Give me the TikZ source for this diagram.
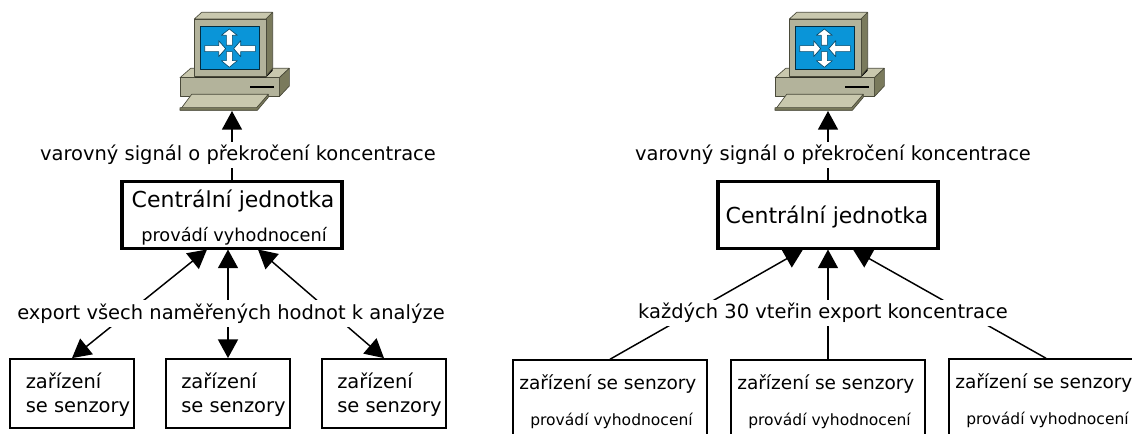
\documentclass[tikz,border=0pt]{standalone}
\usepackage{fontspec}
\setmainfont{DejaVu Sans}
\usetikzlibrary{arrows.meta}
\definecolor{rlight}{HTML}{C9C8AE}
\definecolor{rfront}{HTML}{B3B39B}
\definecolor{rside}{HTML}{7A7A5C}
\definecolor{redge}{HTML}{4A4A3A}
\definecolor{rblue}{HTML}{0A95D8}
\tikzset{
  router/.pic={
    \begin{scope}[draw=redge,line width=.5pt,line join=round]
    \filldraw[fill=rlight] (60,233)--(92,205)--(388,205)--(358,233)--cycle;
    \filldraw[fill=rfront] (60,233) rectangle (358,290);
    \filldraw[fill=rside] (358,233)--(388,205)--(388,258)--(358,290)--cycle;
    \fill[black] (105,228)--(318,228)--(338,205)--(338,212)--(318,232)--(105,232)--cycle;
    \fill[black] (270,257) rectangle (341,263);
    \filldraw[fill=rlight] (60,330)--(95,283)--(325,283)--(290,330)--cycle;
    \filldraw[fill=rside] (60,323)--(60,331)--(292,331)--(325,292)--(325,283)--(290,323)--cycle;
    \filldraw[fill=rlight] (103,57)--(125,37)--(338,37)--(318,57)--cycle;
    \filldraw[fill=rside] (318,57)--(338,37)--(338,205)--(318,228)--cycle;
    \filldraw[fill=rfront] (103,57) rectangle (318,228);
    \filldraw[fill=rblue,draw=black!70!rblue] (121,79) rectangle (299,209);
    \filldraw[fill=white,draw=black!50!rblue] (199,136)--(199,106)--(184,106)--(208,87)--(232,106)--(217,106)--(217,136)--cycle;
    \filldraw[fill=white,draw=black!50!rblue] (199,155)--(199,182)--(184,182)--(208,202)--(232,182)--(217,182)--(217,155)--cycle;
    \filldraw[fill=white,draw=black!50!rblue] (134,137)--(176,137)--(176,122)--(197,146)--(176,170)--(176,155)--(134,155)--cycle;
    \filldraw[fill=white,draw=black!50!rblue] (286,137)--(242,137)--(242,122)--(221,146)--(242,170)--(242,155)--(286,155)--cycle;
    \end{scope}
  },
  thickbox/.style={draw=black,line width=2.7pt,fill=white,minimum width=165.3pt,minimum height=50.3pt,inner sep=0pt},
  thinbox/.style={draw=black,line width=1.1pt,fill=white,inner sep=0pt},
  smallbox/.style={thinbox,minimum width=93pt,minimum height=52pt},
  widebox/.style={thinbox,minimum width=145.5pt,minimum height=90pt},
  link/.style={line width=1.1pt},
  tipped/.style={link,-{Triangle[length=14pt,width=15pt]}},
  both/.style={link,{Triangle[length=14pt,width=15pt]}-{Triangle[length=14pt,width=15pt]}},
  lab/.style={fill=white,inner xsep=1pt,inner ysep=2.5pt,font=\fontsize{14.6}{17}\selectfont},
  bigtxt/.style={inner sep=0pt,font=\fontsize{16.5}{19}\selectfont},
  smalltxt/.style={inner sep=0pt,font=\fontsize{13.3}{16}\selectfont},
  smallertxt/.style={inner sep=0pt,anchor=base west,font=\fontsize{11.65}{14}\selectfont},
  boxtxt/.style={inner sep=0pt,anchor=base west,font=\fontsize{14.6}{17}\selectfont},
  widetxt/.style={inner sep=0pt,anchor=base west,font=\fontsize{13.9}{16}\selectfont},
}
\begin{document}
\begin{tikzpicture}[x=.75pt,y=-.75pt]
\useasboundingbox (0,0) rectangle (1132,434);
\clip (0,0) rectangle (1132,434);
% left
\pic[scale=1/3] at (160,0) {router};
\pic[scale=1/3] at (755,0) {router};
\coordinate (up) at (232,111);
\coordinate (c1) at (207,249.5);
\coordinate (c2) at (228,249.5);
\coordinate (c3) at (258,249.5);
\node[thickbox] (c) at (232,215) {};
\node[smallbox] (s1) at (72,393.5) {};
\node[smallbox] (s2) at (228,393.5) {};
\node[smallbox] (s3) at (384,393.5) {};
\draw[tipped] (c) -- (up);
\draw[both] (s1.north) -- (c1);
\draw[both] (s2.north) -- (c2);
\draw[both] (s3.north) -- (c3);
\node[lab] at (238,155) {varovný signál o překročení koncentrace};
\node[lab] at (231,313.5) {export všech naměřených hodnot k analýze};
\node[bigtxt] at (233,201) {Centrální jednotka};
\node[smalltxt] at (234,236) {provádí vyhodnocení};
\node[boxtxt] at (25.5,388.5) {zařízení};
\node[boxtxt] at (25.5,412.5) {se senzory};
\node[boxtxt] at (181,388.5) {zařízení};
\node[boxtxt] at (181,412.5) {se senzory};
\node[boxtxt] at (337,388.5) {zařízení};
\node[boxtxt] at (337,412.5) {se senzory};
% right
\coordinate (up2) at (828,111);
\coordinate (d1) at (803,249.5);
\coordinate (d2) at (828,249.5);
\coordinate (d3) at (853,249.5);
\node[thickbox] (d) at (828,215) {};
\node[widebox] (t1) at (610,420) {};
\node[widebox] (t2) at (828,420) {};
\node[widebox] (t3) at (1046,419) {};
\draw[tipped] (d) -- (up2);
\draw[tipped] (t1.north) -- (d1);
\draw[tipped] (t2.north) -- (d2);
\draw[tipped] (t3.north) -- (d3);
\node[lab] at (833,155) {varovný signál o překročení koncentrace};
\node[lab] at (823,313) {každých 30 vteřin export koncentrace};
\node[bigtxt] at (827,217) {Centrální jednotka};
\foreach \n/\a/\b/\y in {1/519/530/0,2/737/748/0,3/955/966/-1}{
  \node[widetxt] (z\n) at (\a,389.5+\y) {zařízení se senzory};
  \node[smallertxt] (p\n) at (\b,426+\y) {provádí vyhodnocení};
}
\end{tikzpicture}
\end{document}
